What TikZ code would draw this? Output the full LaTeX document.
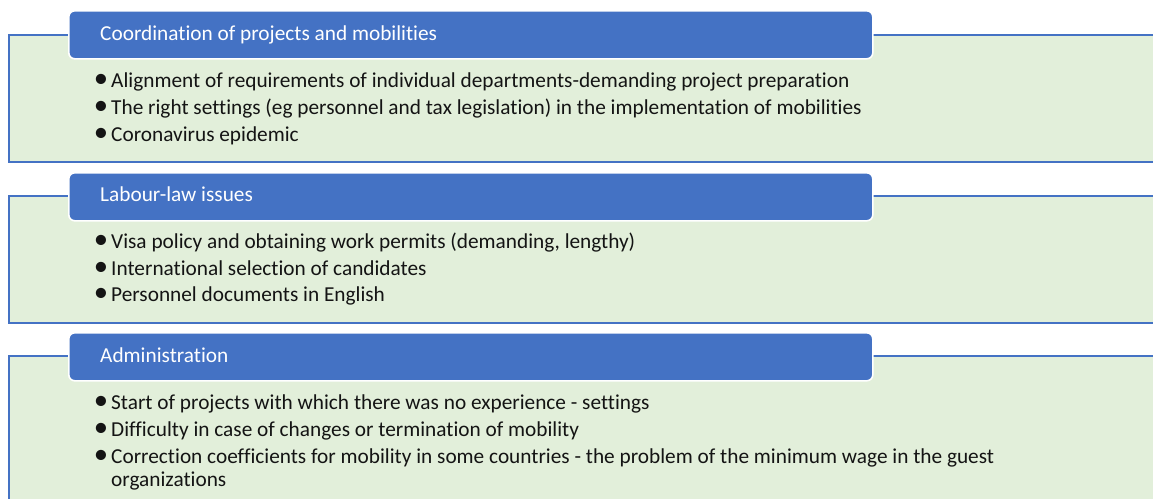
\documentclass[tikz,border=0pt]{standalone}
\usepackage{fontspec}
\setmainfont{Carlito}[Ligatures=NoCommon]
\usepackage{xcolor}
\usetikzlibrary{positioning}
\definecolor{headblue}{HTML}{4472C4}
\definecolor{panelgreen}{HTML}{E2EFDA}
\definecolor{inktext}{HTML}{141414}
\newcommand{\bul}{\llap{\scalebox{1.35}{\textbullet}\hspace{3pt}}}

\begin{document}
\begin{tikzpicture}[x=1pt,y=-1pt,
  panel/.style={draw=headblue, line width=1.8pt, fill=panelgreen, anchor=north west, minimum width=1200pt, inner sep=0pt},
  headbox/.style={draw=white, line width=1.6pt, fill=headblue, rounded corners=6pt, anchor=north west, minimum width=804pt, minimum height=48pt, inner sep=0pt},
  headtext/.style={text=white, anchor=base west, inner sep=0pt, font=\fontsize{21.3}{25}\selectfont},
  itemtext/.style={text=inktext, anchor=base west, inner sep=0pt, font=\fontsize{21.3}{25}\selectfont}]
\useasboundingbox (0,0) rectangle (1153,498);
\clip (0,0) rectangle (1153,498);

% panels
\node[panel, minimum height=127pt] (pcoord) at (8,34) {};
\node[panel, minimum height=127pt] (plabour) at (8,195) {};
\node[panel, minimum height=170pt] (padmin) at (8,355) {};

% headers
\node[headbox] (hcoord) at (68,10) {};
\node[headbox] (hlabour) at (68,172) {};
\node[headbox] (hadmin) at (68,332) {};
\node[headtext] (tcoord) at (100,40) {Coordination of projects and mobilities};
\node[headtext] (tlabour) at (100,201) {Labour-law issues};
\node[headtext] (tadmin) at (100,362) {Administration};

% first box
\node[itemtext] (c1) at (111,87.3) {\bul Alignment of requirements of individual departments-demanding project preparation};
\node[itemtext] (c2) at (111,114.5) {\bul The right settings (eg personnel and tax legislation) in the implementation of mobilities};
\node[itemtext] (c3) at (111,141.7) {\bul Coronavirus epidemic};

% second box
\node[itemtext] (l1) at (111,248.3) {\bul Visa policy and obtaining work permits (demanding, lengthy)};
\node[itemtext] (l2) at (111,275) {\bul International selection of candidates};
\node[itemtext] (l3) at (111,301.7) {\bul Personnel documents in English};

% third box
\node[itemtext] (a1) at (111,409.3) {\bul Start of projects with which there was no experience - settings};
\node[itemtext] (a2) at (111,436.7) {\bul Difficulty in case of changes or termination of mobility};
\node[itemtext] (a3) at (111,463.3) {\bul Correction coefficients for mobility in some countries - the problem of the minimum wage in the guest};
\node[itemtext] (a4) at (111,486) {organizations};
\end{tikzpicture}
\end{document}
